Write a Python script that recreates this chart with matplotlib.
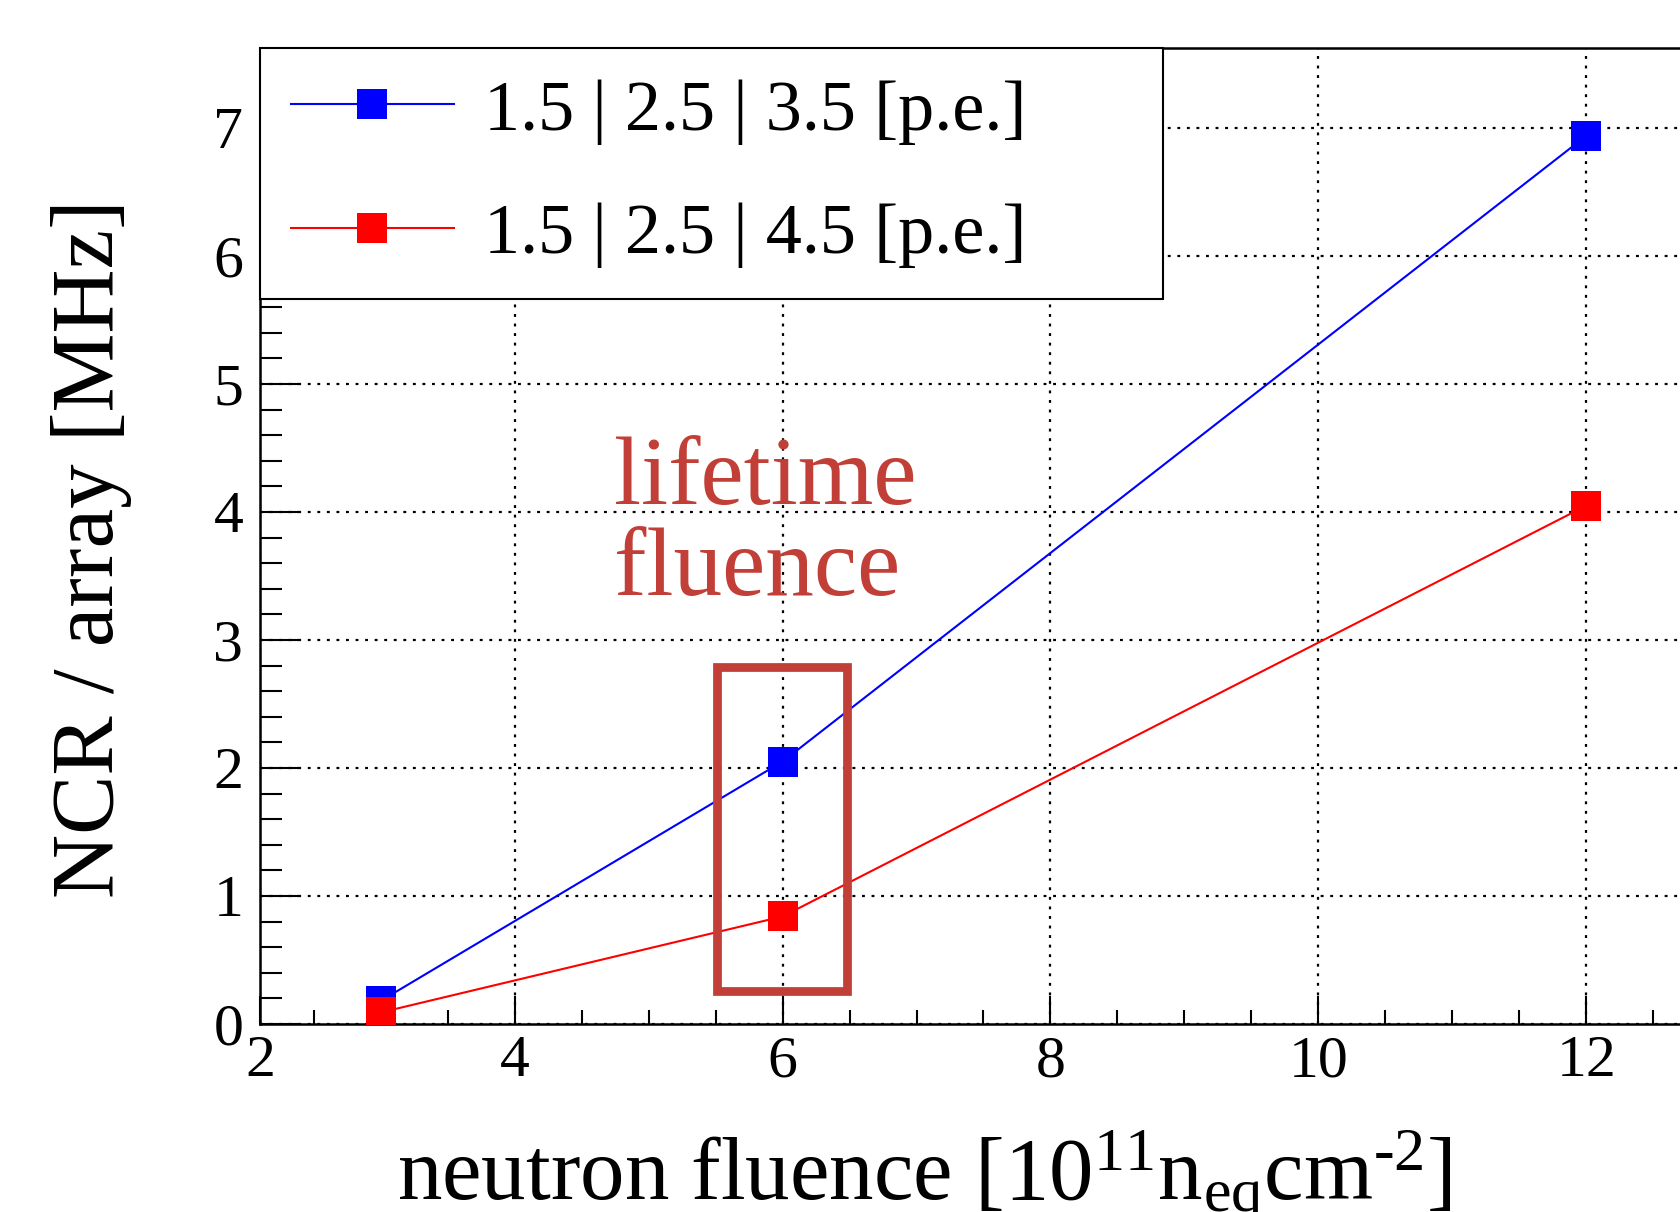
import matplotlib
matplotlib.use('Agg')
import matplotlib.pyplot as plt
from matplotlib.lines import Line2D
from matplotlib.patches import Rectangle
from matplotlib.ticker import MultipleLocator

plt.rcParams['font.family'] = ['Liberation Serif', 'DejaVu Serif']
plt.rcParams['mathtext.fontset'] = 'custom'
plt.rcParams['mathtext.rm'] = 'Liberation Serif'
plt.rcParams['mathtext.it'] = 'Liberation Serif:italic'

# data
fluence = [3, 6, 12]
ncr_35 = [0.18, 2.05, 6.94]
ncr_45 = [0.09, 0.84, 4.05]
series_labels = ['1.5 | 2.5 | 3.5 [p.e.]', '1.5 | 2.5 | 4.5 [p.e.]']
series_colors = ['#0000ff', '#ff0000']

x_range = (2.1, 12.9)
y_range = (0, 7.625)
x_tick_pos = [2.1, 4, 6, 8, 10, 12]
x_tick_labels = ['2', '4', '6', '8', '10', '12']
y_tick_pos = [0, 1, 2, 3, 4, 5, 6, 7]

box_color = '#c23f38'
box_x = (5.51, 6.48)
box_y = (0.26, 2.79)

W, H = 1681, 1212
fig = plt.figure(figsize=(W / 100, H / 100), dpi=100)
ax = fig.add_axes([260 / W, 188 / H, 1447 / W, 976 / H])

for y, c in zip([ncr_35, ncr_45], series_colors):
    ax.plot(fluence, y, color=c, lw=1.5, marker='s', markersize=22, mew=0, zorder=3)

ax.set_xlim(*x_range)
ax.set_ylim(*y_range)
ax.set_xticks(x_tick_pos, x_tick_labels)
ax.set_yticks(y_tick_pos)
ax.xaxis.set_minor_locator(MultipleLocator(0.5))
ax.yaxis.set_minor_locator(MultipleLocator(0.2))

ax.tick_params(which='both', direction='in', width=1.5, labelsize=43, top=False, right=False)
ax.tick_params(axis='x', which='major', length=20, pad=8)
ax.tick_params(axis='x', which='minor', length=10)
ax.tick_params(axis='y', which='major', length=29, pad=12)
ax.tick_params(axis='y', which='minor', length=16)
for s in ax.spines.values():
    s.set_linewidth(1.8)

ax.grid(True, which='major', color='k', linestyle=(0, (1.3, 3)), lw=1.6)
ax.set_axisbelow(True)

# lifetime fluence marker
ax.add_patch(Rectangle((box_x[0], box_y[0]), box_x[1] - box_x[0], box_y[1] - box_y[0],
                       fill=False, ec=box_color, lw=6.3, joinstyle='miter', zorder=4))
ax.text(4.74, 4.06, 'lifetime', color=box_color, fontsize=70, va='baseline', zorder=4)
ax.text(4.74, 3.35, 'fluence', color=box_color, fontsize=70, va='baseline', zorder=4)

handles = [Line2D([], [], color=c, lw=1.5, marker='s', markersize=22, mew=0) for c in series_colors]
leg = ax.legend(handles, series_labels, loc='upper left', bbox_to_anchor=(0, 0.75, 0.624, 0.25),
                mode='expand', borderaxespad=0, fancybox=False, edgecolor='k', framealpha=1,
                fontsize=52, handlelength=2.25, handletextpad=0.42, labelspacing=0.8, borderpad=0.43)
leg.get_frame().set_linewidth(1.5)
leg.set_zorder(10)

fig.text(397 / W, 13 / H, r'neutron fluence [10$^{\mathrm{11}}$n$_{\mathrm{eq}}$cm$^{\mathrm{‐2}}$]',
         fontsize=64, ha='left', va='baseline')
fig.text(113 / W, 1 - 549 / H, 'NCR / array [MHz]', fontsize=64, rotation=90,
         rotation_mode='anchor', ha='center', va='baseline')

fig.savefig('out.png', dpi=100)
